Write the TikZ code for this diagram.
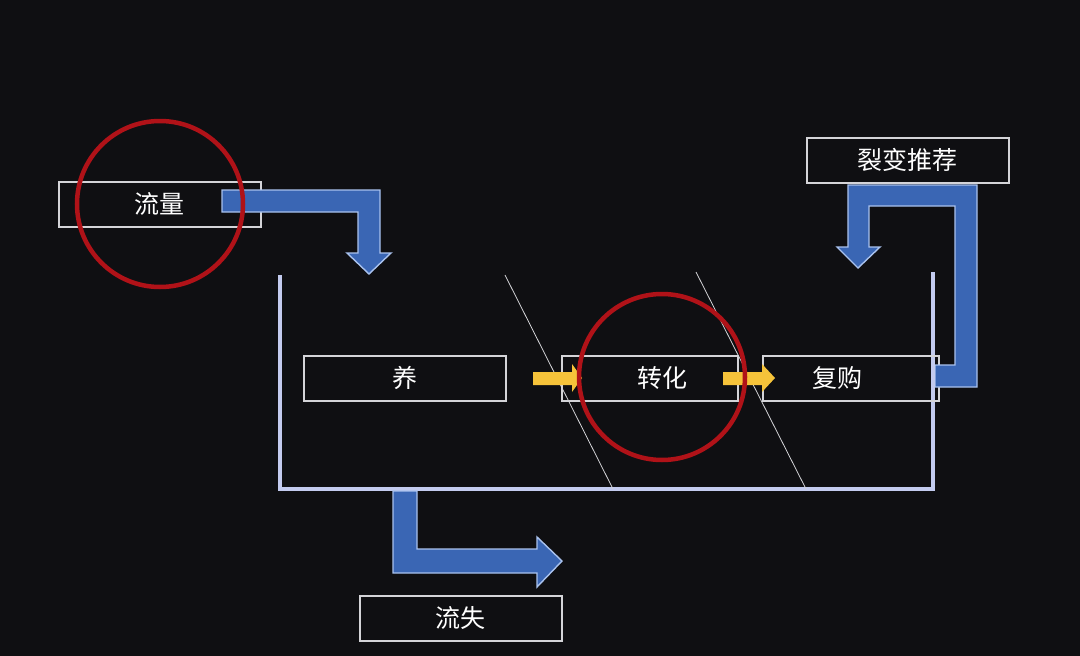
\documentclass[tikz,border=0pt]{standalone}
\usepackage{fontspec}
\newfontfamily\cjk{Noto Sans CJK SC}
\definecolor{bg}{HTML}{0F0F12}
\definecolor{wall}{HTML}{C3CBEF}
\definecolor{boxline}{HTML}{D4D4D8}
\definecolor{bluefill}{HTML}{3A66B4}
\definecolor{blueline}{HTML}{A9C2EE}
\definecolor{yel}{HTML}{F6C33A}
\definecolor{ring}{HTML}{B01218}
\tikzset{
  lbl/.style={draw=boxline, line width=1.6pt, minimum width=#1, minimum height=45pt, inner sep=0pt, text=white, font=\cjk\fontsize{25}{27}\selectfont, anchor=north west},
  lbl/.default=202pt,
  txt/.style={text=white, font=\cjk\fontsize{25}{27}\selectfont, inner sep=0pt},
  bigarrow/.style={fill=bluefill, draw=blueline, line width=1.4pt, line join=miter},
  yarrow/.style={fill=yel, draw=none},
  diag/.style={draw=boxline, line width=0.8pt},
  ringst/.style={draw=ring, line width=4.5pt},
  wallst/.style={draw=wall, line width=3.5pt}
}
\begin{document}
\begin{tikzpicture}[x=1pt,y=-1pt]
\fill[bg] (0,0) rectangle (1080,656);
\useasboundingbox (0,0) rectangle (1080,656);
% container
\draw[wallst] (280,275) -- (280,489) -- (933,489) -- (933,272);
% boxes
\node[lbl] (liuliang) at (58,181) {流量};
\node[lbl] (yang) at (303,355) {养};
\node[lbl=176pt] (zhuanhua) at (561,355) {};
\node[txt] (zhuanhuat) at (662,378) {转化};
\node[lbl=176pt] (fugou) at (762,355) {};
\node[txt] (fugout) at (837,378) {复购};
\node[lbl] (liebian) at (806,137) {裂变推荐};
\node[lbl=202pt] (liushi) at (359,595) {流失};
% diagonal lines
\draw[diag] (505,275) -- (613,489);
\draw[diag] (696,272) -- (806,489);
% yellow arrows
\fill[yarrow] (533,372) -- (572,372) -- (572,364) -- (582,378) -- (572,392) -- (572,385) -- (533,385) -- cycle;
\fill[yarrow] (723,372) -- (762,372) -- (762,364) -- (775,378) -- (762,392) -- (762,385) -- (723,385) -- cycle;
% blue arrows
\draw[bigarrow] (222,190) -- (380,190) -- (380,253) -- (391,253) -- (369,274) -- (347,253) -- (358,253) -- (358,212) -- (222,212) -- cycle;
\draw[bigarrow] (935,365) -- (955,365) -- (955,206) -- (869,206) -- (869,247) -- (880,247) -- (858,268) -- (837,247) -- (848,247) -- (848,185) -- (977,185) -- (977,387) -- (935,387) -- cycle;
\draw[bigarrow] (393,491) -- (417,491) -- (417,549) -- (537,549) -- (537,537) -- (562,561) -- (537,587) -- (537,573) -- (393,573) -- cycle;
\draw[wall, line width=3.5pt] (933,360) -- (933,392);
% red rings
\draw[ringst] (160,204) circle (83);
\draw[ringst] (662,377) circle (83);
\end{tikzpicture}
\end{document}
